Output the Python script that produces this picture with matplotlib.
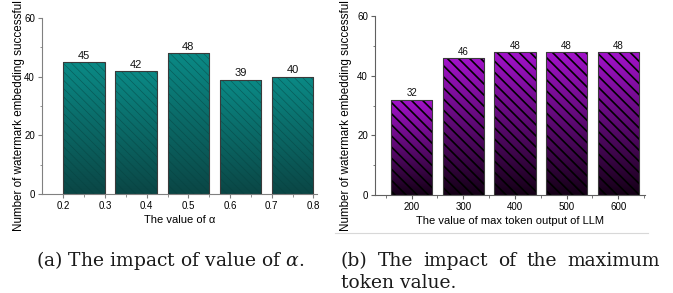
import numpy as np
import matplotlib
matplotlib.use("Agg")
import matplotlib.pyplot as plt
from matplotlib.colors import LinearSegmentedColormap
from matplotlib.lines import Line2D
from matplotlib.ticker import MultipleLocator, FixedLocator

# ---- data ----
alpha_tick_labels = ['0.2', '0.3', '0.4', '0.5', '0.6', '0.7', '0.8']
alpha_counts = [45, 42, 48, 39, 40]
token_labels = ['200', '300', '400', '500', '600']
token_counts = [32, 46, 48, 48, 48]

plt.rcParams['font.family'] = ['Liberation Sans', 'DejaVu Sans']
plt.rcParams['mathtext.fontset'] = 'dejavuserif'

W, H = 673, 293
fig = plt.figure(figsize=(W / 100, H / 100), dpi=100)


def px_axes(x0, x1, ytop, ybot):
    return fig.add_axes([x0 / W, 1 - ybot / H, (x1 - x0) / W, (ybot - ytop) / H])


def gradient_bars(ax, x, vals, width, cmap, edge, hatch, hatch_color, hatch_lw, edge_lw):
    bars = ax.bar(x, vals, width=width, color='none', edgecolor='none', zorder=2)
    grad = np.linspace(0, 1, 256).reshape(-1, 1)
    for b in bars:
        x0, w, h = b.get_x(), b.get_width(), b.get_height()
        im = ax.imshow(grad, extent=[x0, x0 + w, 0, h], origin='lower',
                       aspect='auto', cmap=cmap, zorder=2)
        im.set_clip_path(b)
    hb = ax.bar(x, vals, width=width, color='none', edgecolor=hatch_color,
                hatch=hatch, linewidth=0, zorder=3)
    for p in hb:
        if hasattr(p, 'set_hatch_linewidth'):
            p.set_hatch_linewidth(hatch_lw)
    ax.bar(x, vals, width=width, color='none', edgecolor=edge,
           linewidth=edge_lw, zorder=4)
    return bars


def style_axes(ax, spine_color):
    for s in ['top', 'right']:
        ax.spines[s].set_visible(False)
    for s in ['left', 'bottom']:
        ax.spines[s].set_color(spine_color)
        ax.spines[s].set_linewidth(0.8)
    ax.tick_params(which='major', direction='out', length=3, width=0.8,
                   color=spine_color, labelsize=7, pad=2)
    ax.tick_params(which='minor', direction='out', length=1.8, width=0.6,
                   color=spine_color)
    ax.set_ylim(0, 60)
    ax.yaxis.set_major_locator(MultipleLocator(20))
    ax.yaxis.set_minor_locator(MultipleLocator(10))


# ---- left panel ----
ax1 = px_axes(42, 317, 18, 194)
x1 = np.arange(len(alpha_counts))
cmap1 = LinearSegmentedColormap.from_list('teal', ['#0b4645', '#0a8a86'])
bars1 = gradient_bars(ax1, x1, alpha_counts, 0.8, cmap1, '#3a3a3a',
                      '\\\\\\\\', '#06403e99', 0.45, 0.8)
style_axes(ax1, '#808080')
tick_pos1 = np.linspace(x1[0] - 0.4, x1[-1] + 0.4, len(alpha_tick_labels))
ax1.set_xticks(tick_pos1)
ax1.set_xticklabels(alpha_tick_labels)
ax1.xaxis.set_minor_locator(FixedLocator((tick_pos1[:-1] + tick_pos1[1:]) / 2))
ax1.set_xlim(-0.81, 4.47)
ax1.set_ylim(0, 60)
for b, v in zip(bars1, alpha_counts):
    ax1.text(b.get_x() + b.get_width() / 2, v + 0.4, str(v), ha='center',
             va='bottom', fontsize=8, color='#111111')
ax1.set_xlabel('The value of α', fontsize=8, labelpad=3)
ax1.set_ylabel('Number of watermark embedding successful', fontsize=8.4)
ax1.yaxis.set_label_coords(-17 / 275, (194 - 116) / 176)

# ---- right panel ----
ax2 = px_axes(375, 645, 16, 195)
x2 = np.arange(len(token_counts))
cmap2 = LinearSegmentedColormap.from_list('purp', ['#140016', '#a412cc'])
bars2 = gradient_bars(ax2, x2, token_counts, 0.8, cmap2, '#3a3a3a',
                      '\\\\\\', '#000000', 1.2, 0.8)
style_axes(ax2, '#606060')
ax2.set_xticks(x2)
ax2.set_xticklabels(token_labels)
ax2.xaxis.set_minor_locator(FixedLocator(np.arange(len(token_counts) + 1) - 0.5))
ax2.set_xlim(-0.71, 4.52)
ax2.set_ylim(0, 60)
for b, v in zip(bars2, token_counts):
    ax2.text(b.get_x() + b.get_width() / 2, v + 0.4, str(v), ha='center',
             va='bottom', fontsize=7, color='#111111')
ax2.set_xlabel('The value of max token output of LLM', fontsize=8, labelpad=3)
ax2.set_ylabel('Number of watermark embedding successful', fontsize=8.4)
ax2.yaxis.set_label_coords(-23 / 270, (195 - 116) / 179)

# separator line under right panel
fig.add_artist(Line2D([335 / W, 648 / W], [1 - 233 / H, 1 - 233 / H],
                      color='#d8d8d8', linewidth=0.8))

# ---- captions ----
serif = ['DejaVu Serif']
renderer = fig.canvas.get_renderer()


def text_width(s, size):
    t = fig.text(0, 0, s, fontsize=size, family=serif)
    w = t.get_window_extent(renderer).width
    t.remove()
    return w


cap_a = r'(a) The impact of value of $\alpha$.'
size = 10 * 269 / text_width(cap_a, 10)
cap_kw = dict(fontsize=size, family=serif, color='#1a1a1a', va='baseline', ha='left')
fig.text(36 / W, 1 - 266 / H, cap_a, **cap_kw)

words = ['(b)', 'The', 'impact', 'of', 'the', 'maximum']
ws = [text_width(w, size) for w in words]
gap = (660 - 341 - sum(ws)) / (len(words) - 1)
xpos = 341.0
for wd, ww in zip(words, ws):
    fig.text(xpos / W, 1 - 266 / H, wd, **cap_kw)
    xpos += ww + gap
fig.text(341 / W, 1 - 288 / H, 'token value.', **cap_kw)

fig.savefig('out.png', dpi=100)
